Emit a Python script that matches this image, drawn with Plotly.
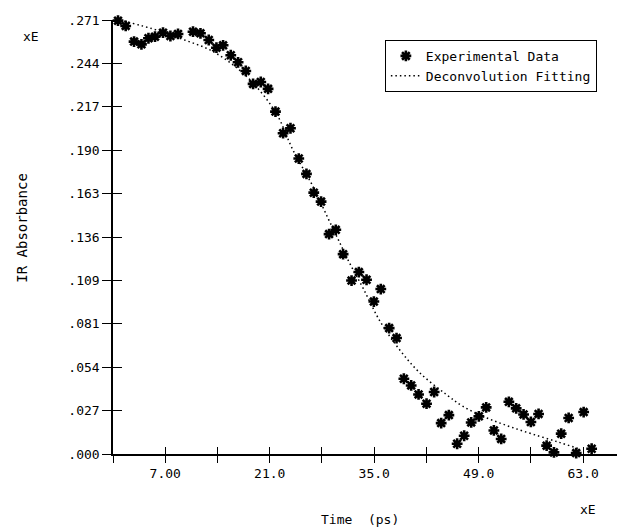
import plotly.graph_objects as go

# ---- data ----
exp_time = [0.67, 1.70, 2.82, 3.81, 4.75, 5.63, 6.70, 7.69, 8.71, 9.71,
            10.72, 11.72, 12.83, 13.86, 14.75, 15.78, 16.76, 17.79, 18.77, 19.80,
            20.78, 21.77, 22.79, 23.78, 24.89, 25.92, 26.90, 27.88, 28.95, 29.85,
            30.83, 31.96, 32.94, 33.97, 34.95, 35.88, 37.00, 37.99, 38.97, 39.95,
            40.94, 42.01, 43.03, 43.97, 45.00, 46.11, 47.05, 47.99, 49.02, 50.00,
            51.03, 52.01, 53.04, 54.02, 55.01, 55.99, 57.02, 58.10, 59.08, 60.05,
            61.05, 62.06, 63.06, 64.13]
exp_abs = [0.2706, 0.2673, 0.2575, 0.2558, 0.2596, 0.2606, 0.2631, 0.2610, 0.2623, 0.2716,
           0.2637, 0.2627, 0.2585, 0.2537, 0.2552, 0.2490, 0.2446, 0.2392, 0.2311, 0.2323,
           0.2280, 0.2138, 0.2003, 0.2034, 0.1845, 0.1749, 0.1632, 0.1576, 0.1373, 0.1400,
           0.1248, 0.1083, 0.1136, 0.1088, 0.0952, 0.1030, 0.0786, 0.0724, 0.0470, 0.0428,
           0.0372, 0.0314, 0.0387, 0.0193, 0.0243, 0.0064, 0.0114, 0.0197, 0.0235, 0.0291,
           0.0147, 0.0094, 0.0326, 0.0285, 0.0247, 0.0200, 0.0250, 0.0052, 0.0010, 0.0127,
           0.0225, 0.0006, 0.0262, 0.0033]

fit_time = [0.9, 6.3, 9.6, 13.0, 16.1, 18.8, 21.9, 24.1, 26.8, 28.8, 30.2, 31.7,
            33.5, 35.8, 38.4, 41.1, 44.7, 46.9, 50.1, 53.6, 57.2, 59.9, 62.1, 62.6]
fit_abs = [0.2710, 0.2641, 0.2585, 0.2523, 0.2429, 0.2315, 0.2125, 0.1899, 0.1670, 0.1473,
           0.1337, 0.1192, 0.1036, 0.0827, 0.0651, 0.0507, 0.0370, 0.0297, 0.0225, 0.0164,
           0.0110, 0.0071, 0.0037, 0.0027]

x_tickvals = [0, 7, 14, 21, 28, 35, 42, 49, 56, 63]
x_ticktext = ["", "7.00", "", "21.0", "", "35.0", "", "49.0", "", "63.0"]
y_tickvals = [0, 0.0271, 0.0542, 0.0813, 0.1084, 0.1355, 0.1626, 0.1897, 0.2168, 0.2439, 0.271]
y_ticktext = [".000", ".027", ".054", ".081", ".109", ".136", ".163", ".190", ".217", ".244", ".271"]

FONT = "DejaVu Sans Mono"
X_RANGE = [0, 68.6]
Y_RANGE = [0, 0.271]

fig = go.Figure()
fig.add_trace(go.Scatter(
    x=exp_time, y=exp_abs, mode="markers", name="Experimental Data",
    marker=dict(symbol="asterisk", size=9, color="black",
                line=dict(color="black", width=2.6)),
    cliponaxis=False))
# fit curve lives on the overlay axes (which carry the inner half of the crossing ticks)
fig.add_trace(go.Scatter(
    x=fit_time, y=fit_abs, mode="lines", name="Deconvolution Fitting",
    xaxis="x2", yaxis="y2",
    line=dict(color="black", width=1.5, dash="1.5px,3px", shape="spline"),
    cliponaxis=False))

common_x = dict(range=X_RANGE, tickvals=x_tickvals, showgrid=False, zeroline=False,
                tickcolor="black", tickwidth=1.3, ticklen=7)
common_y = dict(range=Y_RANGE, tickvals=y_tickvals, showgrid=False, zeroline=False,
                tickcolor="black", tickwidth=1.3, ticklen=9)

fig.update_layout(
    width=617, height=523,
    margin=dict(l=105, r=0, t=12, b=77),
    paper_bgcolor="white", plot_bgcolor="white",
    font=dict(family=FONT, color="black", size=13),
    xaxis=dict(**common_x, ticks="outside", ticktext=x_ticktext,
               showline=True, linecolor="black", linewidth=1.5,
               tickfont=dict(family=FONT, size=13, color="black")),
    yaxis=dict(**common_y, ticks="outside", ticktext=y_ticktext,
               showline=True, linecolor="black", linewidth=1.5,
               tickfont=dict(family=FONT, size=13, color="black")),
    xaxis2=dict(**common_x, ticks="inside", overlaying="x", anchor="y2",
                showticklabels=False, showline=False),
    yaxis2=dict(**common_y, ticks="inside", overlaying="y", anchor="x2",
                showticklabels=False, showline=False),
    showlegend=True,
    legend=dict(x=0.531, y=0.954, xanchor="left", yanchor="top",
                bgcolor="white", bordercolor="black", borderwidth=1,
                font=dict(family=FONT, size=13, color="black"),
                tracegroupgap=0, itemwidth=30),
    annotations=[
        dict(text="IR Absorbance", textangle=-90, xref="paper", yref="paper",
             x=-0.178, y=0.521, showarrow=False, xanchor="center", yanchor="middle",
             font=dict(family=FONT, size=14, color="black")),
        dict(text="xE", xref="paper", yref="paper", x=-0.161, y=0.961,
             showarrow=False, xanchor="center", yanchor="middle",
             font=dict(family=FONT, size=13, color="black")),
        dict(text="xE", xref="paper", yref="paper", x=0.928, y=-0.128,
             showarrow=False, xanchor="center", yanchor="middle",
             font=dict(family=FONT, size=13, color="black")),
        dict(text="Time  (ps)", xref="paper", yref="paper", x=0.482, y=-0.152,
             showarrow=False, xanchor="center", yanchor="middle",
             font=dict(family=FONT, size=13, color="black")),
    ],
)

fig.write_html("out.html")
